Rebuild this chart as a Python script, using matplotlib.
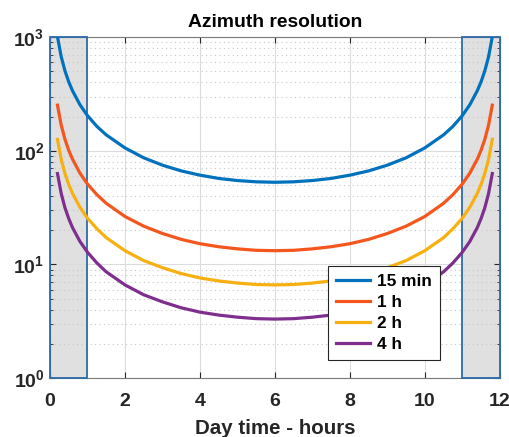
import matplotlib
matplotlib.use("Agg")
import matplotlib.pyplot as plt
from matplotlib.ticker import LogLocator, NullFormatter, FixedLocator

plt.rcParams['font.family'] = ['Liberation Sans', 'DejaVu Sans']

# day time (hours)
t = [0.2, 0.3, 0.4, 0.5, 0.6, 0.8, 1.0, 1.25, 1.5, 2, 2.5, 3, 3.5, 4, 4.5, 5, 5.5, 6,
     6.5, 7, 7.5, 8, 8.5, 9, 9.5, 10, 10.5, 10.75, 11, 11.2, 11.4, 11.5, 11.6, 11.7, 11.8]

# azimuth resolution per integration time
res_15min = [1008, 672, 505, 404, 338, 254, 204, 164, 138, 106, 86.7, 74.7, 66.5, 61.0, 57.1, 54.7, 53.3, 52.8,
             53.3, 54.7, 57.1, 61.0, 66.5, 74.7, 86.7, 106, 138, 164, 204, 254, 338, 404, 505, 672, 1008]
res_1h = [252, 168, 126, 101, 84.4, 63.5, 51.0, 41.1, 34.5, 26.4, 21.7, 18.7, 16.6, 15.2, 14.3, 13.7, 13.3, 13.2,
          13.3, 13.7, 14.3, 15.2, 16.6, 18.7, 21.7, 26.4, 34.5, 41.1, 51.0, 63.5, 84.4, 101, 126, 168, 252]
res_2h = [126, 84, 63, 50.5, 42.2, 31.8, 25.5, 20.6, 17.2, 13.2, 10.8, 9.35, 8.3, 7.6, 7.15, 6.85, 6.65, 6.6,
          6.65, 6.85, 7.15, 7.6, 8.3, 9.35, 10.8, 13.2, 17.2, 20.6, 25.5, 31.8, 42.2, 50.5, 63, 84, 126]
res_4h = [63, 42, 31.5, 25.3, 21.1, 15.9, 12.8, 10.3, 8.6, 6.6, 5.4, 4.68, 4.15, 3.8, 3.58, 3.43, 3.33, 3.3,
          3.33, 3.43, 3.58, 3.8, 4.15, 4.68, 5.4, 6.6, 8.6, 10.3, 12.8, 15.9, 21.1, 25.3, 31.5, 42, 63]

labels = ['15 min', '1 h', '2 h', '4 h']
colors = ['#0072BD', '#F4561D', '#F7B010', '#7E2F8E']

# night-time bands
bands = [(0, 1), (11, 12)]

fig, ax = plt.subplots(figsize=(5.1, 4.37), dpi=100)
fig.subplots_adjust(left=0.098, right=0.980, top=0.915, bottom=0.135)

for x0, x1 in bands:
    ax.axvspan(x0, x1, facecolor='#e0e0e0', edgecolor='none', zorder=0.1)
    ax.axvspan(x0, x1, facecolor='none', edgecolor='#2e6aa8', lw=1.3, zorder=2.7, clip_on=False)

for y, lab, c in zip([res_15min, res_1h, res_2h, res_4h], labels, colors):
    ax.plot(t, y, color=c, lw=2.3, label=lab, zorder=3)

ax.set_yscale('log')
ax.set_xlim(0, 12)
ax.set_ylim(1, 1000)
ax.xaxis.set_major_locator(FixedLocator([0, 2, 4, 6, 8, 10, 12]))
ax.yaxis.set_major_locator(LogLocator(base=10, numticks=10))
ax.yaxis.set_minor_locator(LogLocator(base=10, subs=range(2, 10), numticks=20))
ax.yaxis.set_minor_formatter(NullFormatter())

ax.grid(True, which='major', color='#dcdcdc', lw=0.8)
ax.grid(True, which='minor', axis='y', color='#c8c8c8', lw=0.8, ls=(0, (1, 3)))
ax.set_axisbelow(True)

ax.tick_params(which='both', direction='in', top=True, right=True, colors='#262626',
               labelsize=14)
ax.tick_params(which='major', length=4, width=0.8)
ax.tick_params(which='minor', length=2, width=0.6)
ax.tick_params(axis='x', pad=10.5)
ax.tick_params(axis='y', pad=4)
for lbl in ax.get_xticklabels() + ax.get_yticklabels():
    lbl.set_fontweight('bold')
for s in ax.spines.values():
    s.set_color('#7a7a7a')
    s.set_linewidth(0.8)

ax.set_title('Azimuth resolution', fontsize=13.9, fontweight='bold', pad=7)
ax.set_xlabel('Day time - hours', fontsize=14.8, fontweight='bold', color='#262626', labelpad=7)

leg = ax.legend(loc='lower left', bbox_to_anchor=(0.618, 0.053), borderaxespad=0, fancybox=False,
                edgecolor='#262626', framealpha=1, prop={'weight': 'bold', 'size': 12.4},
                handlelength=2.0, handletextpad=0.4, borderpad=0.45, labelspacing=0.35)
leg.get_frame().set_linewidth(0.8)

plt.savefig('out.png', dpi=100)
